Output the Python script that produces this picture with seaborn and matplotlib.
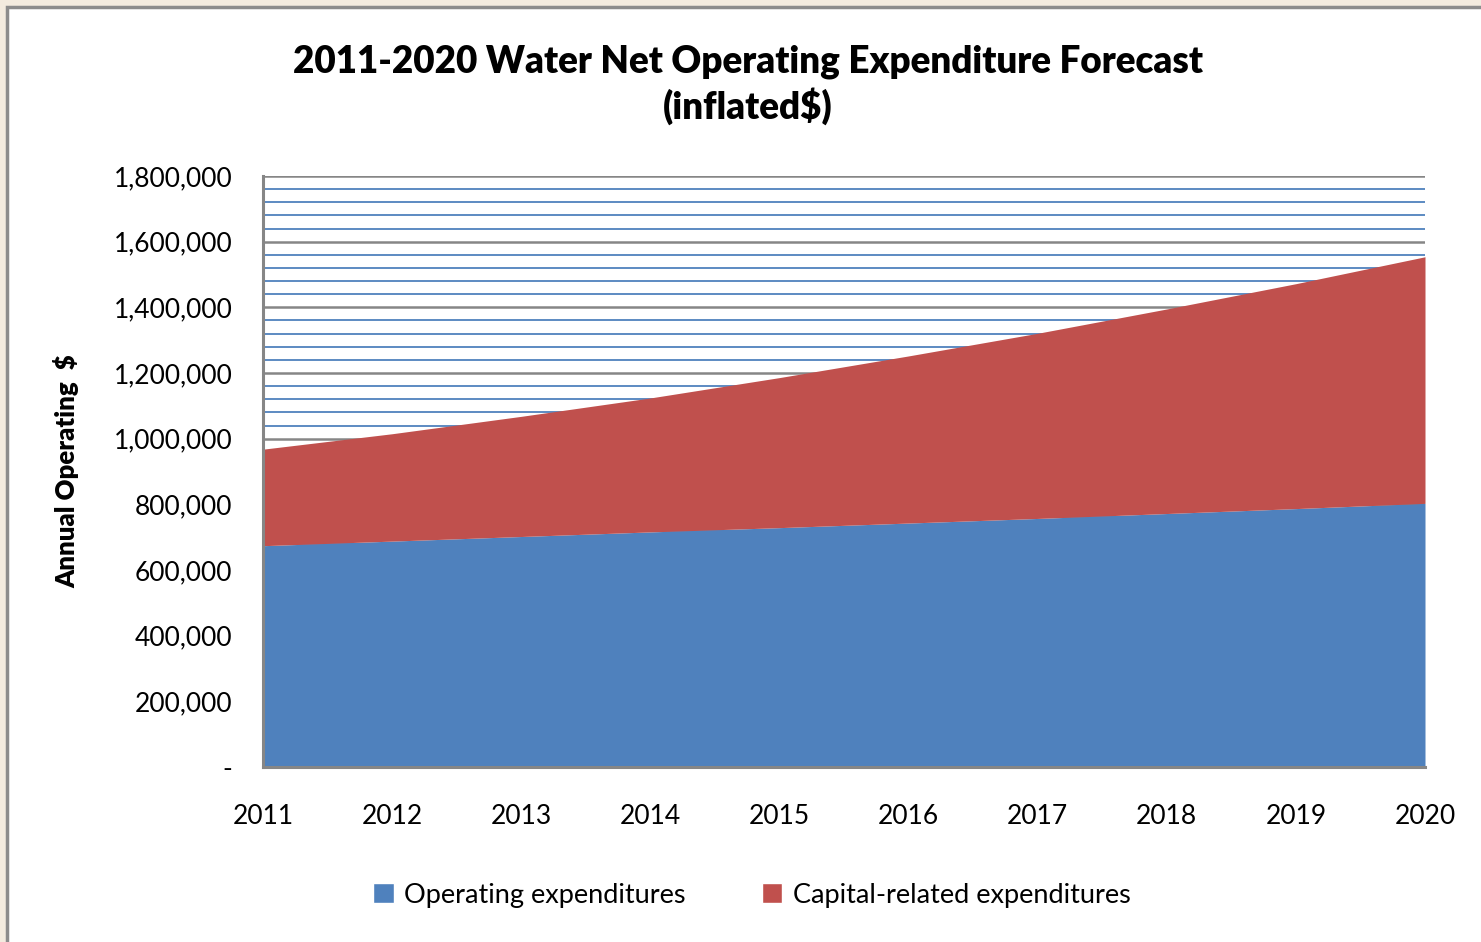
import matplotlib.pyplot as plt
import matplotlib.ticker as mticker
import pandas as pd
import seaborn as sns
from matplotlib.patches import Patch, Rectangle

# Data (dollars)
years = [2011, 2012, 2013, 2014, 2015, 2016, 2017, 2018, 2019, 2020]
operating = [674000, 688000, 702000, 716000, 729000, 743000, 757000, 772000, 787000, 803000]
capital = [294000, 327000, 366000, 408000, 457000, 509000, 564000, 623000, 685000, 751000]
series_names = ["Operating expenditures", "Capital-related expenditures"]
title = "2011-2020 Water Net Operating Expenditure Forecast\n(inflated$)"

df = pd.DataFrame({"year": years, series_names[0]: operating, series_names[1]: capital})

sns.set_theme(style="white")
plt.rcParams['font.family'] = ['Lato', 'DejaVu Sans']
plt.rcParams['text.color'] = "black"

blue = "#4F81BD"
red = "#C0504D"
grey = "#868686"

fig = plt.figure(figsize=(14.81, 9.42), dpi=100)
fig.patch.set_facecolor("#F3EBDF")
# white chart area with grey frame
fig.patches.append(Rectangle((7 / 1481, -0.05), 1.1, 1 - 7 / 942 + 0.05,
                             transform=fig.transFigure, facecolor="white",
                             edgecolor="#8C8C8C", linewidth=2.5, zorder=-5))

ax = fig.add_axes([263 / 1481, 1 - 767 / 942, (1425 - 263) / 1481, (767 - 176) / 942])
ax.set_facecolor("none")

ax.stackplot(df["year"], df[series_names[0]], df[series_names[1]],
             colors=[blue, red], linewidth=0, zorder=3)

ax.set_xlim(2011, 2020)
ax.set_ylim(0, 1800000)
ax.set_xticks(years)
ax.yaxis.set_major_locator(mticker.MultipleLocator(200000))
ax.yaxis.set_minor_locator(mticker.MultipleLocator(40000))
ax.yaxis.set_major_formatter(mticker.FuncFormatter(lambda v, p: "-" if v == 0 else f"{int(v):,}"))

ax.grid(axis="y", which="minor", color=blue, linewidth=1.3, zorder=1)
ax.grid(axis="y", which="major", color=grey, linewidth=1.8, zorder=2)
ax.set_axisbelow(True)

for s in ["top", "right"]:
    ax.spines[s].set_visible(False)
for s in ["left", "bottom"]:
    ax.spines[s].set_color(grey)
    ax.spines[s].set_linewidth(2.2)
    ax.spines[s].set_zorder(4)

ax.tick_params(axis="both", which="both", length=0)
ax.tick_params(axis="y", pad=22, labelsize=19, labelcolor="black")
ax.tick_params(axis="x", pad=27, labelsize=19, labelcolor="black")

ax.set_ylabel("Annual Operating  $", fontsize=18.5, fontweight="heavy", color="black")
ax.yaxis.set_label_coords(-0.158, 0.5)

fig.text(748 / 1481, 1 - 85 / 942, title, ha="center", va="center", color="black",
         fontsize=26.5, fontweight="heavy", linespacing=1.25)

handles = [Patch(facecolor=blue, label=series_names[0]),
           Patch(facecolor=red, label=series_names[1])]
fig.legend(handles=handles, loc="center", bbox_to_anchor=(752 / 1481, 1 - 895 / 942),
           ncol=2, frameon=False, fontsize=19.5, handlelength=0.75, handleheight=0.75,
           handletextpad=0.4, columnspacing=2.8, labelcolor="black")

fig.savefig("out.png", dpi=100, facecolor=fig.get_facecolor())
